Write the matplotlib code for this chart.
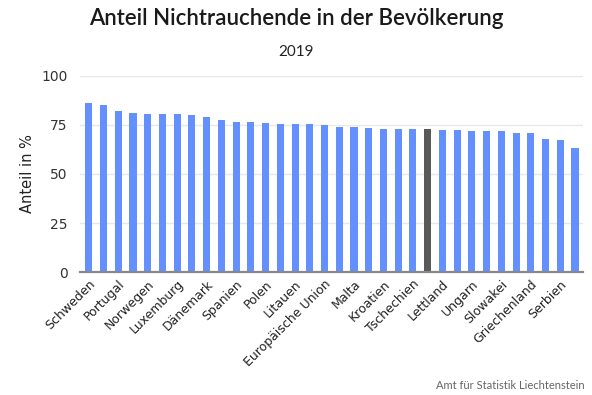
import numpy as np
import matplotlib.pyplot as plt

# only every second country is labelled in the original chart
labels = ['Schweden', 'Portugal', 'Norwegen', 'Luxemburg', 'Dänemark', 'Spanien',
          'Polen', 'Litauen', 'Europäische Union', 'Malta', 'Kroatien', 'Tschechien',
          'Lettland', 'Ungarn', 'Slowakei', 'Griechenland', 'Serbien']
values = [86.4, 85.4, 82.3, 81.3, 80.8, 80.8, 80.8, 79.9, 79.2, 77.7, 76.7, 76.7,
          76.2, 75.7, 75.3, 75.3, 74.8, 74.1, 74.1, 73.6, 73.1, 72.8, 72.8, 72.8,
          72.3, 72.3, 71.8, 71.8, 71.8, 70.8, 70.8, 67.7, 67.2, 63.3]
highlight = 23  # Liechtenstein

blue = '#6490ff'
dark = '#595959'

x = np.arange(len(values))
colors = [dark if i == highlight else blue for i in x]

fig = plt.figure(figsize=(5.92, 3.95), dpi=100)
ax = fig.add_axes([0.135, 0.311, 0.85, 0.497])

ax.bar(x, values, width=0.48, color=colors, zorder=2)

ax.set_ylim(0, 100)
ax.set_xlim(-0.6, 33.55)
ax.set_yticks([0, 25, 50, 75, 100])
ax.yaxis.grid(True, color='#e8e8e8', lw=1, zorder=0)
ax.set_xticks(x[::2])
ax.set_xticklabels(labels, rotation=45, ha='right', rotation_mode='anchor',
                   fontsize=9, color='#222222')
ax.tick_params(axis='x', length=0, pad=4)
ax.tick_params(axis='y', length=0, pad=9, labelsize=10, labelcolor='#333333')
for s in ['top', 'right', 'left']:
    ax.spines[s].set_visible(False)
ax.spines['bottom'].set_color('#888888')
ax.spines['bottom'].set_linewidth(1.6)
ax.spines['bottom'].set_zorder(3)

ax.set_ylabel('Anteil in %', fontsize=10.5, color='#222222', labelpad=4)

fig.text(0.5, 0.952, 'Anteil Nichtrauchende in der Bevölkerung', ha='center', va='center',
         fontsize=16, family='Lato', fontweight='semibold', color='#1a1a1a')
fig.text(0.5, 0.868, '2019', ha='center', va='center', fontsize=11, family='Lato',
         color='#222222')
fig.text(0.988, 0.023, 'Amt für Statistik Liechtenstein', ha='right', va='center',
         fontsize=8, family='Lato', color='#666666')

plt.savefig('out.png', dpi=100)
